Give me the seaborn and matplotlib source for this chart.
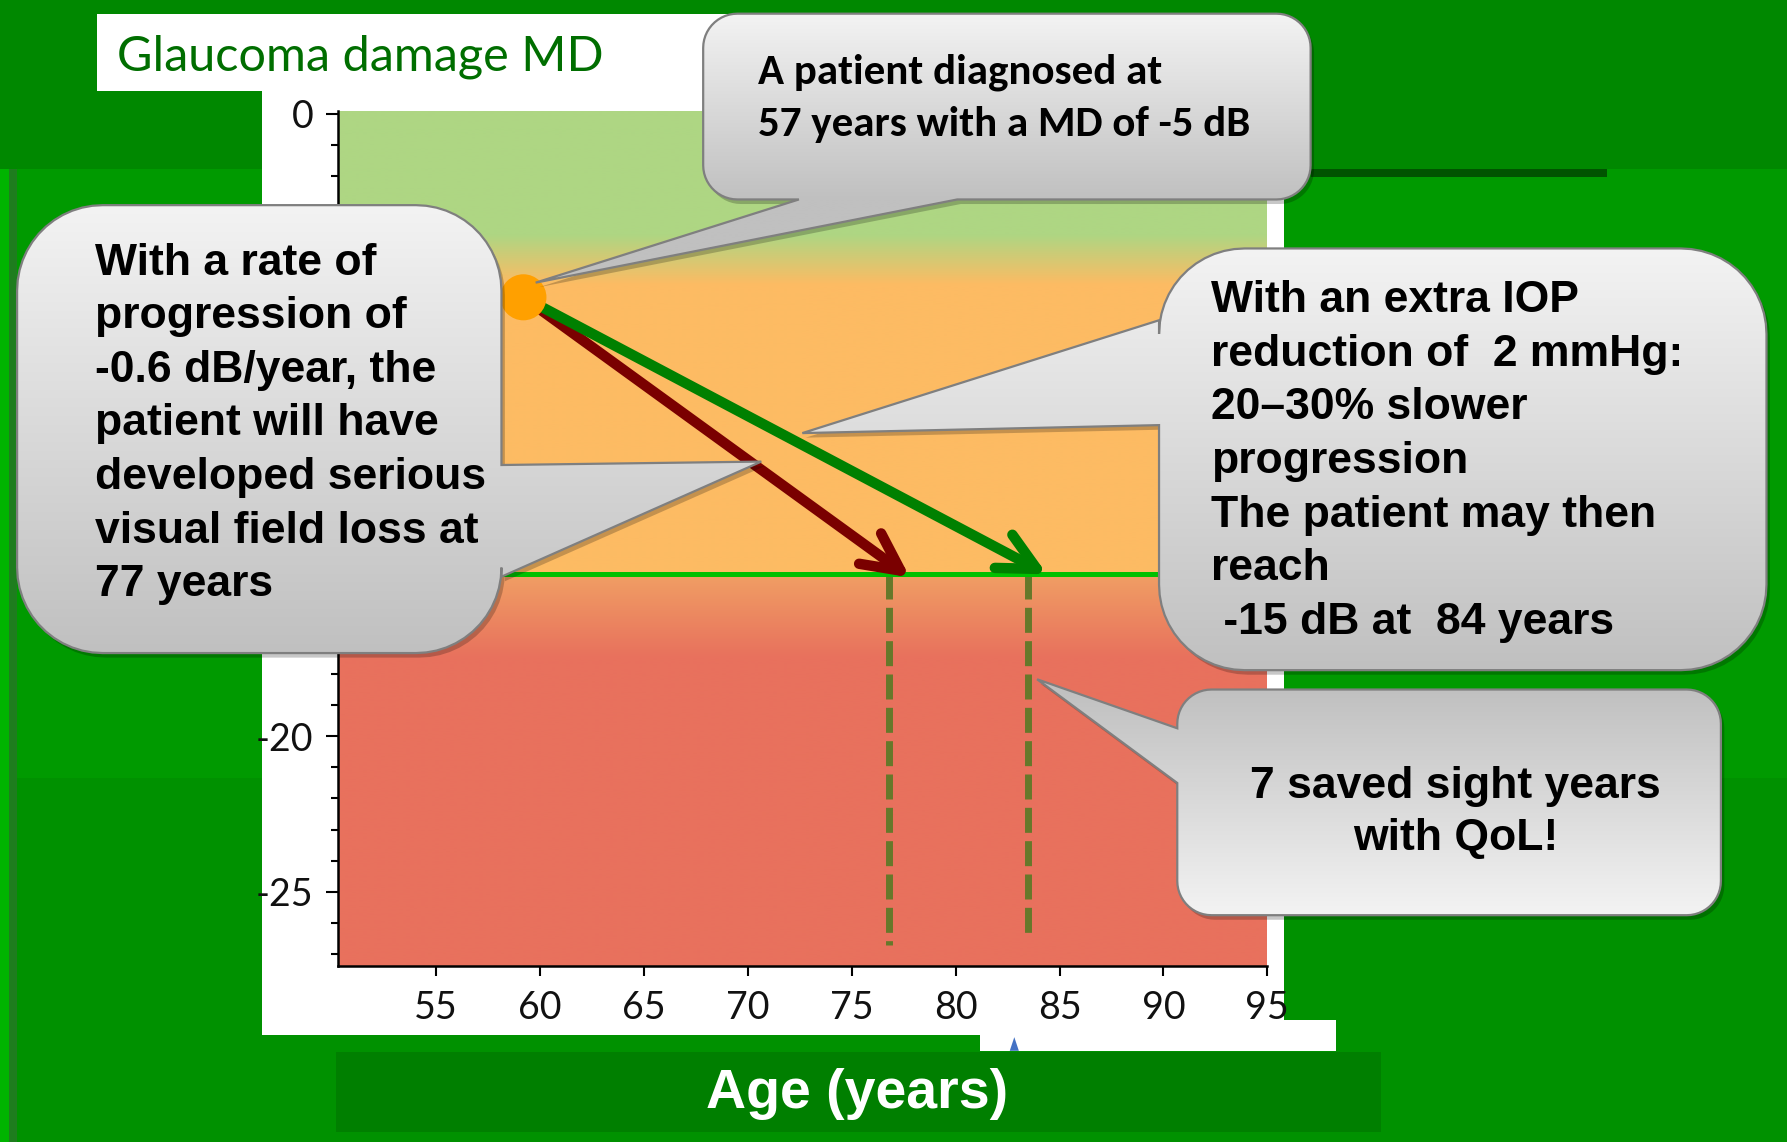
import numpy as np
import pandas as pd
import matplotlib
matplotlib.use("Agg")
import matplotlib.pyplot as plt
import seaborn as sns
from matplotlib.patches import Rectangle, Polygon
from matplotlib.ticker import MultipleLocator
from matplotlib import font_manager as fm

# ---------------- data ----------------
start_age = [59.2]            # diagnosis point (age, years)
start_md = [-5.9]             # diagnosis point (MD, dB)
arrow_end_age = [77.8, 84.4]  # untreated / extra IOP reduction
arrow_end_md = [-14.9, -14.8]
threshold_md = -14.8          # serious visual field loss level
loss_age = [76.8, 83.5]       # ages at which the threshold is reached
loss_bottom_md = [-26.7, -26.5]
x_ticks = [55, 60, 65, 70, 75, 80, 85, 90, 95]
y_ticks = [0, -5, -10, -15, -20, -25]
y_ticklabels = ["0", "", "", "", "-20", "-25"]   # -5..-15 hidden under the callout
title_text = "Glaucoma damage MD"
xlabel_text = "Age (years)"
callout_diag = ["A patient diagnosed at", "57 years with a MD of -5 dB"]
callout_rate = ["With a rate of", "progression of", "-0.6 dB/year, the",
                "patient will have", "developed serious",
                "visual field loss at", "77 years"]
callout_iop = ["With an extra IOP", "reduction of  2 mmHg:", "20\u201330% slower",
               "progression", "The patient may then", "reach",
               " -15 dB at  84 years"]
callout_saved = ["7 saved sight years", "with QoL!"]

# ---------------- style ----------------
sns.set_theme(style="ticks")
names = {f.name for f in fm.fontManager.ttflist}


def pick(*cands):
    for n in cands:
        if n in names:
            return n
    return "DejaVu Sans"


F_ARIAL = pick("Liberation Sans", "Arimo", "DejaVu Sans")
F_CALIBRI = pick("Carlito", "Lato", "Open Sans")
F_TITLE = pick("Lato", "Open Sans", "Noto Sans")
F_TICK = pick("Liberation Sans Narrow", "Lato")
TICK_SIZE = 31 if F_TICK == "Liberation Sans Narrow" else 27
plt.rcParams["font.family"] = [F_ARIAL, "DejaVu Sans"]

W, H = 1568, 1002
fig = plt.figure(figsize=(17.87, 11.42), dpi=100)
fig.patch.set_facecolor("#009a00")

# ---------------- background slide ----------------
bg = fig.add_axes([0, 0, 1, 1], zorder=-5)
bg.set_xlim(0, W)
bg.set_ylim(H, 0)
bg.axis("off")


def rect(a, x, y, w, h, c, z=1):
    a.add_patch(Rectangle((x, y), w, h, facecolor=c, edgecolor="none", zorder=z))


rect(bg, 0, 0, W, 148, "#008800")
rect(bg, 0, 148, W, 535, "#009a00")
rect(bg, 0, 683, W, H - 683, "#009100")
rect(bg, 0, 148, 8, H - 148, "#00b400")
rect(bg, 8, 148, 7, H - 148, "#1e7d1e")
rect(bg, 1150, 148, 260, 7, "#005400")
rect(bg, 85, 12, 555, 68, "white")
rect(bg, 230, 80, 897, 828, "white")
rect(bg, 295, 923, 917, 70, "#007f00")
bg.text(103, 62, title_text, fontsize=35, color="#006e00", family=F_TITLE,
        va="baseline", ha="left")

# ---------------- main chart ----------------
AX_L, AX_R, AX_T, AX_B = 297, 1112, 97, 848
ax = fig.add_axes([AX_L / W, 1 - AX_B / H, (AX_R - AX_L) / W, (AX_B - AX_T) / H], zorder=0)
XLIM = (50.3, 95)
YLIM = (-27.4, 0.1)

green = (174, 214, 131)
orange = (253, 187, 99)
red = (232, 113, 93)
ys = np.linspace(YLIM[1], YLIM[0], 900)
stop_y = np.array([-27.4, -17.5, -14.85, -14.8, -5.5, -3.9, 0.1])
stop_c = np.array([red, red, (240, 158, 100), orange, orange, green, green]) / 255.0
grad = np.stack([np.interp(ys, stop_y, stop_c[:, k]) for k in range(3)], axis=-1)[:, None, :]
ax.imshow(grad, extent=(XLIM[0], XLIM[1], YLIM[0], YLIM[1]), origin="upper",
          aspect="auto", zorder=0, interpolation="bilinear")

ax.axhline(threshold_md, color="#00c000", lw=3.6, zorder=3)
for xa, yb in zip(loss_age, loss_bottom_md):
    ax.plot([xa, xa], [threshold_md, yb], color="#66782a", lw=5,
            linestyle=(0, (3.6, 1.2)), zorder=2, dash_capstyle="butt")

arrow_colors = ["#7a0000", "#008000"]
for ex, ey, c in zip(arrow_end_age, arrow_end_md, arrow_colors):
    ax.annotate("", xy=(ex, ey), xytext=(start_age[0], start_md[0]),
                arrowprops=dict(arrowstyle="->,head_length=0.9,head_width=0.45",
                                color=c, lw=7.5, mutation_scale=30,
                                shrinkA=0, shrinkB=0,
                                capstyle="round", joinstyle="round"),
                zorder=4)

sns.scatterplot(x=start_age, y=start_md, s=1100, color="#ffa000",
                edgecolor="none", linewidth=0, zorder=6, ax=ax, legend=False)

ax.set_xlim(*XLIM)
ax.set_ylim(*YLIM)
ax.set_xticks(x_ticks)
ax.set_xticklabels([str(v) for v in x_ticks])
ax.set_yticks(y_ticks)
ax.set_yticklabels(y_ticklabels)
ax.yaxis.set_minor_locator(MultipleLocator(1))
ax.tick_params(axis="both", which="both", direction="out", color="black",
               width=1.5, labelcolor="#111111")
ax.tick_params(axis="y", which="major", length=8.5, pad=9.5, labelsize=TICK_SIZE)
ax.tick_params(axis="y", which="minor", length=5)
ax.tick_params(axis="x", which="major", length=7, pad=10, labelsize=TICK_SIZE)
for lab in ax.get_xticklabels() + ax.get_yticklabels():
    lab.set_family(F_TICK)
for s in ("top", "right"):
    ax.spines[s].set_visible(False)
for s in ("left", "bottom"):
    ax.spines[s].set_color("black")
    ax.spines[s].set_linewidth(1.8)
ax.set_ylabel("")
ax.set_xlabel(xlabel_text, fontsize=40, fontweight="bold", color="white", family=F_ARIAL)
ax.xaxis.set_label_coords((752 - AX_L) / (AX_R - AX_L), -(960 - AX_B) / (AX_B - AX_T))
ax.xaxis.label.set_va("center")

# ---------------- callouts overlay ----------------
ov = fig.add_axes([0, 0, 1, 1], zorder=10)
ov.set_xlim(0, W)
ov.set_ylim(H, 0)
ov.axis("off")

rect(ov, 860, 895, 312, 27, "white", z=0.5)
ov.add_patch(Polygon([(886, 922), (890, 910), (894, 922)], closed=True,
                     facecolor="#4472c4", edgecolor="none", zorder=0.6))


def outline(x0, y0, x1, y1, r, side, base, tip, n=14):
    pts = []

    def arc(cx, cy, a0, a1):
        for a in np.linspace(np.radians(a0), np.radians(a1), n):
            pts.append((cx + r * np.cos(a), cy + r * np.sin(a)))

    arc(x0 + r, y0 + r, 180, 270)
    if side == "top":
        pts.extend([(base[0], y0), tip, (base[1], y0)])
    arc(x1 - r, y0 + r, 270, 360)
    if side == "right":
        pts.extend([(x1, base[0]), tip, (x1, base[1])])
    arc(x1 - r, y1 - r, 0, 90)
    if side == "bottom":
        pts.extend([(base[0], y1), tip, (base[1], y1)])
    arc(x0 + r, y1 - r, 90, 180)
    if side == "left":
        pts.extend([(x0, base[0]), tip, (x0, base[1])])
    return np.array(pts, dtype=float)


def callout(x0, y0, x1, y1, r, side, base, tip, reverse=False):
    pts = outline(x0, y0, x1, y1, r, side, base, tip)
    ov.add_patch(Polygon(pts + np.array([3.0, 4.0]), closed=True,
                         facecolor=(0, 0, 0, 0.22), edgecolor="none", zorder=1))
    poly = Polygon(pts, closed=True, facecolor="none", edgecolor="#7f7f7f",
                   lw=1.6, zorder=3)
    ov.add_patch(poly)
    xmin, xmax = pts[:, 0].min(), pts[:, 0].max()
    ymin, ymax = pts[:, 1].min(), pts[:, 1].max()
    yy = np.linspace(ymin, ymax, 400)
    t = np.clip((yy - y0) / (y1 - y0), 0, 1)
    if reverse:
        t = 1 - t
    v = (243 + (192 - 243) * t) / 255.0
    img = np.repeat(v[:, None], 3, axis=1)[:, None, :]
    im = ov.imshow(img, extent=(xmin, xmax, ymax, ymin), origin="upper",
                   aspect="auto", zorder=2, interpolation="bilinear")
    im.set_clip_path(poly)


callout(617, 12, 1150, 175, 30, "bottom", (840, 701), (470, 248))
callout(15, 180, 440, 573, 75, "right", (408, 506), (668, 405))
callout(1017, 218, 1550, 588, 75, "left", (373, 281), (704, 380))
callout(1033, 605, 1510, 803, 30, "left", (687, 639), (910, 596), reverse=True)

for i, line in enumerate(callout_diag):
    ov.text(665, 73 + 46 * i, line, fontsize=31, fontweight="bold", family=F_CALIBRI,
            va="baseline", ha="left", color="black", zorder=4)
for i, line in enumerate(callout_rate):
    ov.text(83, 241 + 47 * i, line, fontsize=32, fontweight="bold", family=F_ARIAL,
            va="baseline", ha="left", color="black", zorder=4)
for i, line in enumerate(callout_iop):
    ov.text(1063, 274 + 47 * i, line, fontsize=32, fontweight="bold", family=F_ARIAL,
            va="baseline", ha="left", color="black", zorder=4)
for i, line in enumerate(callout_saved):
    ov.text(1277, 700 + 46 * i, line, fontsize=32, fontweight="bold", family=F_ARIAL,
            va="baseline", ha="center", color="black", zorder=4)

ov.set_xlim(0, W)
ov.set_ylim(H, 0)

fig.savefig("out.png", dpi=100)
